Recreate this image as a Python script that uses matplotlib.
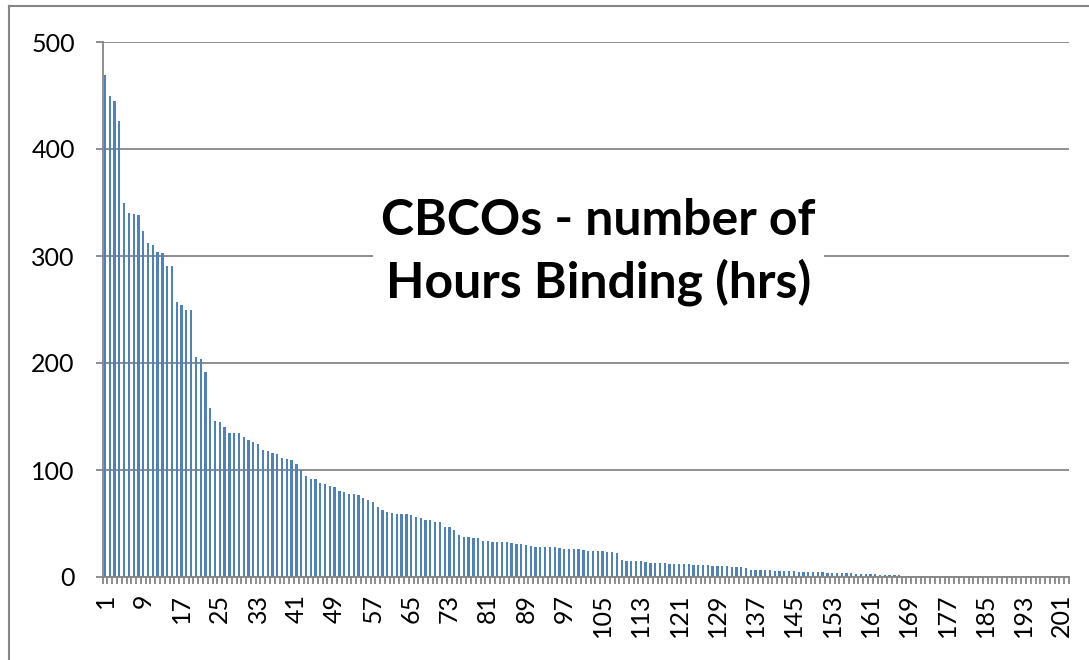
import matplotlib.pyplot as plt
import matplotlib.lines as mlines
import numpy as np

# Hours binding per CBCO, sorted descending
hours_1_32 = [469, 450, 445, 426, 350, 340, 339, 338, 323, 312, 310, 304, 303, 291, 291, 257,
              254, 250, 250, 206, 204, 192, 158, 146, 145, 140, 135, 135, 135, 131, 128, 126]
hours_33_73 = [124, 119, 118, 116, 115, 111, 110, 109, 106, 100, 94, 92, 92, 88, 87, 85,
               84, 80, 79, 78, 78, 77, 74, 72, 70, 65, 63, 61, 60, 59, 59, 59,
               58, 56, 55, 53, 53, 51, 51, 47, 47]
hours_74_115 = [44, 39, 37, 37, 36, 36, 34, 34, 33, 33, 33, 33, 32, 31, 31, 30,
                29, 28, 28, 28, 28, 28, 27, 26, 26, 26, 26, 25, 24, 24, 24, 24,
                23, 23, 22, 16, 15, 15, 15, 15, 14, 13]
hours_116_202 = [13, 13, 13, 12, 12, 12, 12, 12, 11, 11, 11, 11, 10, 10, 10, 10,
                 9, 9, 9, 8, 7, 7, 7, 7, 7, 6, 6, 6, 6, 6, 5, 5,
                 5, 5, 5, 5, 4, 4, 4, 4, 4, 4, 3, 3, 3, 3, 3, 2,
                 2, 2, 2, 2, 1, 1, 1, 1, 0, 0, 0, 0, 0, 0, 0, 0,
                 0, 0, 0, 0, 0, 0, 0, 0, 0, 0, 0, 0, 0, 0, 0, 0,
                 0, 0, 0, 0, 0, 0, 0]
hours = hours_1_32 + hours_33_73 + hours_74_115 + hours_116_202
cbco = np.arange(1, len(hours) + 1)

title_text = 'CBCOs - number of\nHours Binding (hrs)'
yticks = [0, 100, 200, 300, 400, 500]
xlabels = list(range(1, len(hours) + 1, 8))

plt.rcParams['font.family'] = ['Lato', 'DejaVu Sans']
grey = '#868686'
W, H = 1089, 660

fig = plt.figure(figsize=(W / 100, H / 100), dpi=100)
ax = fig.add_axes([102.6 / W, 1 - 577 / H, (1069 - 102.6) / W, (577 - 42) / H])

ax.bar(cbco, hours, width=0.48, color='#4F81BD', zorder=3)

ax.set_xlim(0.5, len(hours) + 0.5)
ax.set_ylim(0, 500)
ax.set_yticks(yticks)
ax.set_yticklabels([str(v) for v in yticks], fontsize=18)
ax.set_xticks(xlabels)
ax.set_xticklabels([str(v) for v in xlabels], rotation=90, fontsize=18)
ax.set_xticks(np.arange(0.5, len(hours) + 1), minor=True)

ax.tick_params(axis='x', which='major', length=0, pad=12)
ax.tick_params(axis='x', which='minor', length=5, width=1.3, color=grey, direction='out')
ax.tick_params(axis='y', length=5, width=1.3, color=grey, pad=15)

ax.grid(axis='y', color=grey, linewidth=1.3, zorder=0)
for side in ['top', 'right']:
    ax.spines[side].set_visible(False)
for side in ['left', 'bottom']:
    ax.spines[side].set_color(grey)
    ax.spines[side].set_linewidth(1.3)
    ax.spines[side].set_zorder(4)

ax.text(0.513, 0.607, title_text, transform=ax.transAxes, ha='center', va='center',
        fontsize=36, fontweight='bold', linespacing=1.4, zorder=5,
        bbox=dict(facecolor='white', edgecolor='none', pad=6))

# outer chart frame (cropped on right and bottom)
fig.add_artist(mlines.Line2D([8.5 / W, 8.5 / W], [0, 1 - 5.5 / H], color=grey, lw=1.5))
fig.add_artist(mlines.Line2D([8.5 / W, 1], [1 - 5.5 / H, 1 - 5.5 / H], color=grey, lw=1.5))

fig.savefig('out.png', dpi=100)
